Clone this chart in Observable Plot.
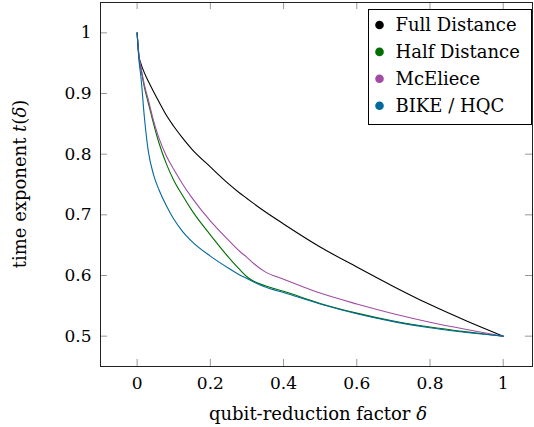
<!DOCTYPE html>
<html>
<head>
<meta charset="utf-8">
<script src="https://cdn.jsdelivr.net/npm/d3@7"></script>
<script src="https://cdn.jsdelivr.net/npm/@observablehq/plot@0.6"></script>
<style>
  html, body { margin: 0; padding: 0; background: #fff; }
  #chart { position: relative; width: 534px; height: 427px; }
</style>
</head>
<body>
<div id="chart"></div>
<script>
// ---- data ----
const delta = [0, 0.005, 0.01, 0.02, 0.03, 0.045, 0.06, 0.08, 0.1, 0.125, 0.15, 0.2, 0.25, 0.28, 0.3, 0.32, 0.35, 0.4, 0.5, 0.6, 0.7, 0.8, 0.9, 1];
const fullDistance = [1, 0.962, 0.95, 0.934, 0.921, 0.903, 0.886, 0.864, 0.846, 0.826, 0.808, 0.779, 0.751, 0.736, 0.727, 0.718, 0.705, 0.685, 0.647, 0.614, 0.582, 0.552, 0.525, 0.5];
const halfDistance = [1, 0.96, 0.942, 0.91, 0.886, 0.85, 0.818, 0.784, 0.757, 0.731, 0.707, 0.667, 0.63, 0.61, 0.598, 0.59, 0.583, 0.574, 0.554, 0.538, 0.525, 0.515, 0.507, 0.5];
const mceliece = [1, 0.962, 0.945, 0.914, 0.891, 0.855, 0.826, 0.797, 0.775, 0.75, 0.728, 0.69, 0.658, 0.64, 0.63, 0.619, 0.606, 0.594, 0.571, 0.553, 0.537, 0.523, 0.511, 0.5];
const bikeHqc = [1, 0.955, 0.93, 0.86, 0.807, 0.766, 0.741, 0.715, 0.693, 0.672, 0.656, 0.632, 0.612, 0.601, 0.595, 0.589, 0.581, 0.572, 0.553, 0.537, 0.524, 0.514, 0.506, 0.5];
const seriesNames = ["Full Distance", "Half Distance", "McEliece", "BIKE / HQC"];
const seriesColors = ["#000000", "#006e00", "#a04ca3", "#00699d"];
const xTickValues = [0, 0.2, 0.4, 0.6, 0.8, 1];
const xTickLabels = ["0", "0.2", "0.4", "0.6", "0.8", "1"];
const yTickValues = [0.5, 0.6, 0.7, 0.8, 0.9, 1];
const yTickLabels = ["0.5", "0.6", "0.7", "0.8", "0.9", "1"];

const seriesValues = [fullDistance, halfDistance, mceliece, bikeHqc];
const rows = seriesNames.flatMap((name, s) =>
  delta.map((d, i) => ({ delta: d, t: seriesValues[s][i], series: name })));

// ---- layout ----
const W = 534, H = 427, mL = 100, mR = 2, mT = 2, mB = 61;
const innerW = W - mL - mR, innerH = H - mT - mB;
const tickLen = 7;
const font = "DejaVu Serif";

const chart = Plot.plot({
  width: W, height: H,
  marginLeft: mL, marginRight: mR, marginTop: mT, marginBottom: mB,
  style: { fontFamily: font, fontSize: "17px", background: "white", overflow: "visible" },
  x: { domain: [-0.1, 1.08], label: null },
  y: { domain: [0.45, 1.05], label: null },
  color: { domain: seriesNames, range: seriesColors },
  marks: [
    Plot.tickX(xTickValues, { x: d => d, stroke: "#999", strokeWidth: 1, insetTop: innerH - tickLen }),
    Plot.tickX(xTickValues, { x: d => d, stroke: "#999", strokeWidth: 1, insetBottom: innerH - tickLen }),
    Plot.tickY(yTickValues, { y: d => d, stroke: "#999", strokeWidth: 1, insetRight: innerW - tickLen }),
    Plot.tickY(yTickValues, { y: d => d, stroke: "#999", strokeWidth: 1, insetLeft: innerW - tickLen }),
    Plot.line(rows, { x: "delta", y: "t", z: "series", stroke: "series", strokeWidth: 1.1, curve: "monotone-x" }),
    Plot.frame({ stroke: "#222", strokeWidth: 1 }),
    Plot.axisX({ ticks: xTickValues, tickSize: 0, tickPadding: 10, tickFormat: d => xTickLabels[xTickValues.indexOf(d)], fontSize: 17, label: null }),
    Plot.axisY({ ticks: yTickValues, tickSize: 0, tickPadding: 9, tickFormat: d => yTickLabels[yTickValues.indexOf(d)], fontSize: 17, label: null })
  ]
});

document.getElementById("chart").appendChild(chart);
const svg = d3.select(chart);

// axis labels
const xl = svg.append("text")
  .attr("x", mL + innerW / 2 + 2).attr("y", 420)
  .attr("text-anchor", "middle")
  .attr("font-family", font).attr("font-size", 18).attr("fill", "black");
xl.append("tspan").text("qubit-reduction factor ");
xl.append("tspan").attr("font-style", "italic").text("δ");

const yl = svg.append("text")
  .attr("transform", `translate(26,${mT + innerH / 2}) rotate(-90)`)
  .attr("text-anchor", "middle")
  .attr("font-family", font).attr("font-size", 18).attr("fill", "black");
yl.append("tspan").text("time exponent ");
yl.append("tspan").attr("font-style", "italic").text("t");
yl.append("tspan").text("(");
yl.append("tspan").attr("font-style", "italic").text("δ");
yl.append("tspan").text(")");

// legend
const lg = svg.append("g").attr("transform", "translate(368.5,9.5)");
lg.append("rect").attr("width", 163).attr("height", 115)
  .attr("fill", "white").attr("stroke", "black").attr("stroke-width", 1);
seriesNames.forEach((name, i) => {
  const cy = 15.5 + i * 26.9;
  lg.append("circle").attr("cx", 11).attr("cy", cy).attr("r", 4.3).attr("fill", seriesColors[i]);
  lg.append("text").attr("x", 27).attr("y", cy).attr("dy", "0.36em")
    .attr("text-anchor", "start")
    .attr("font-family", font).attr("font-size", 18).attr("fill", "black").text(name);
});
</script>
</body>
</html>
